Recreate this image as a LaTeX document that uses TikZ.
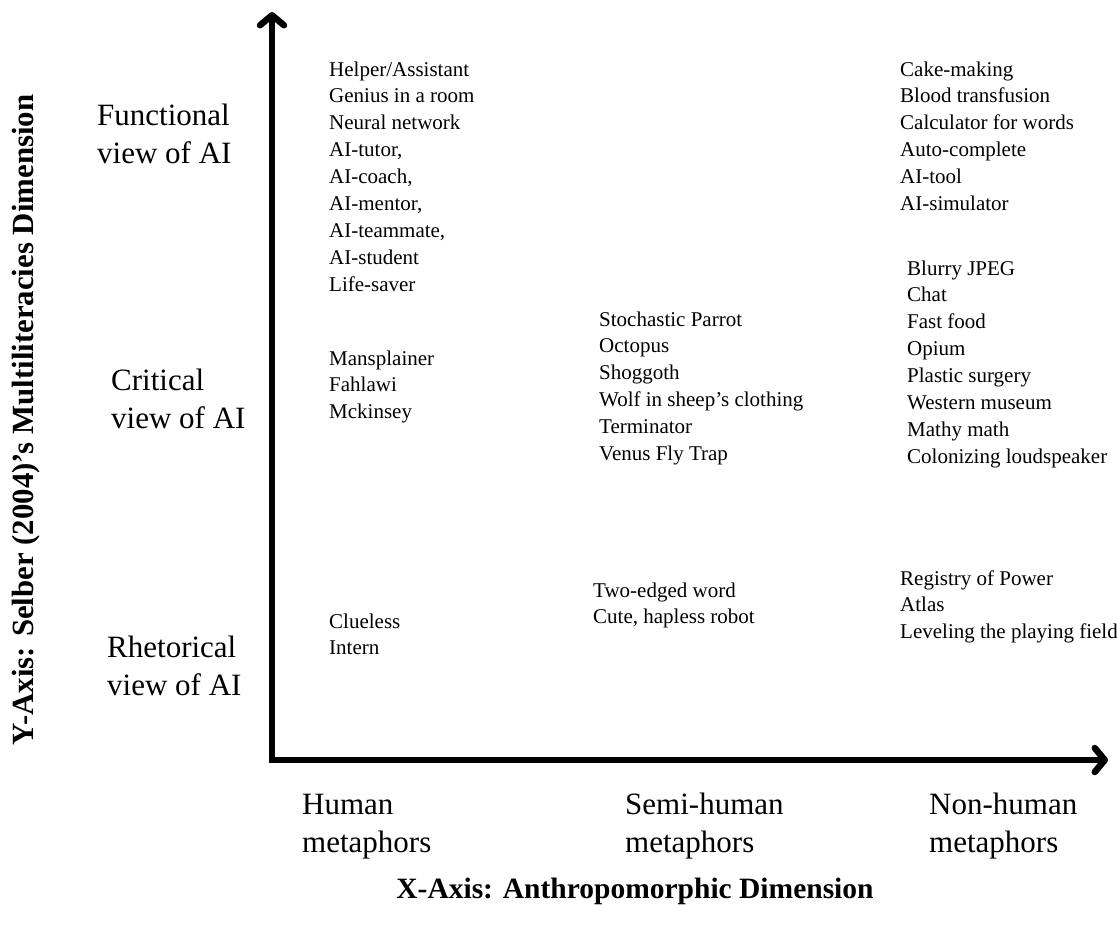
\documentclass[tikz,border=0pt]{standalone}
\usepackage{fontspec}
\setmainfont{Liberation Serif}
\usetikzlibrary{arrows.meta}

\newcommand{\itemfont}{\fontsize{21}{26.9}\selectfont}
\newcommand{\viewfont}{\fontsize{31}{38}\selectfont}
\newcommand{\axisfont}{\fontsize{29.5}{35}\selectfont\bfseries}
\newcommand{\yaxisfont}{\fontsize{30.8}{35}\selectfont\bfseries}

\begin{document}
\begin{tikzpicture}[x=1pt,y=1pt,yscale=-1,xscale=1]
        \useasboundingbox (0,0) rectangle (1117,935);

        % Axis end points
        \coordinate (origin) at (272,760);
        \coordinate (ytop) at (272,12);
        \coordinate (xend) at (1108,760);
        %Shape: Axis 2D
        \draw  [line width=6.5pt, {Straight Barb[length=10pt,width=24pt,round]}-{Straight Barb[length=10pt,width=24pt,round]}]  (ytop) |- (xend) ;

        % Text Node (base = last line)
        \draw (329,291.2) node (humfunc) [anchor=base west][inner sep=0pt][align=left]  [font=\itemfont]  {Helper/Assistant\\Genius in a room\\Neural network\\AI-tutor,\\AI-coach,\\AI-mentor,\\AI-teammate,\\AI-student\\Life-saver};
        % Text Node
        \draw (329,418.8) node (humcrit) [anchor=base west][inner sep=0pt][align=left]  [font=\itemfont]  {Mansplainer\\Fahlawi\\Mckinsey};
        % Text Node
        \draw (329,654.9) node (humrhet) [anchor=base west][inner sep=0pt][align=left]  [font=\itemfont]  {Clueless\\Intern};
        % Text Node
        \draw (599,460.5) node (semicrit) [anchor=base west][inner sep=0pt][align=left]  [font=\itemfont]  {Stochastic Parrot\\Octopus\\Shoggoth\\Wolf in sheep's clothing\\Terminator\\Venus Fly Trap};
        % Text Node
        \draw (593,623.9) node (semirhet) [anchor=base west][inner sep=0pt][align=left]  [font=\itemfont]  {Two-edged word\\Cute, hapless robot};
        % Text Node
        \draw (900,210.5) node (nonfunc) [anchor=base west][inner sep=0pt][align=left]  [font=\itemfont]  {Cake-making\\Blood transfusion\\Calculator for words\\Auto-complete\\AI-tool\\AI-simulator};
        % Text Node
        \draw (907,463.3) node (noncrit) [anchor=base west][inner sep=0pt][align=left]  [font=\itemfont]  {Blurry JPEG\\Chat\\Fast food\\Opium\\Plastic surgery\\Western museum\\Mathy math\\Colonizing loudspeaker};
        % Text Node
        \draw (900,638.8) node (nonrhet) [anchor=base west][inner sep=0pt][align=left]  [font=\itemfont]  {Registry of Power\\Atlas\\Leveling the playing field};

        % Text Node
        \draw (97,163) node (funcview) [anchor=base west][inner sep=0pt][align=left]  [font=\viewfont]  {Functional\\view of AI};
        % Text Node
        \draw (111,428) node (critview) [anchor=base west][inner sep=0pt][align=left]  [font=\viewfont]  {Critical\\view of AI};
        % Text Node
        \draw (107,695) node (rhetview) [anchor=base west][inner sep=0pt][align=left]  [font=\viewfont]  {Rhetorical\\view of AI};

        % Text Node
        \draw (302,852) node (human) [anchor=base west][inner sep=0pt][align=left]  [font=\viewfont]  {Human\\metaphors};
        % Text Node
        \draw (625,852) node (semihuman) [anchor=base west][inner sep=0pt][align=left]  [font=\viewfont]  {Semi-human\\metaphors};
        % Text Node
        \draw (929,852) node (nonhuman) [anchor=base west][inner sep=0pt][align=left]  [font=\viewfont]  {Non-human\\metaphors};

        % Text Node
        \draw (635,898) node (xlabel) [anchor=base][inner sep=0pt]  [font=\axisfont]  {X-Axis: Anthropomorphic Dimension};
        % Text Node
        \draw (33,420) node (ylabel) [anchor=base][inner sep=0pt][rotate=90]  [font=\yaxisfont]  {Y-Axis: Selber (2004)'s Multiliteracies Dimension};

\end{tikzpicture}
\end{document}
